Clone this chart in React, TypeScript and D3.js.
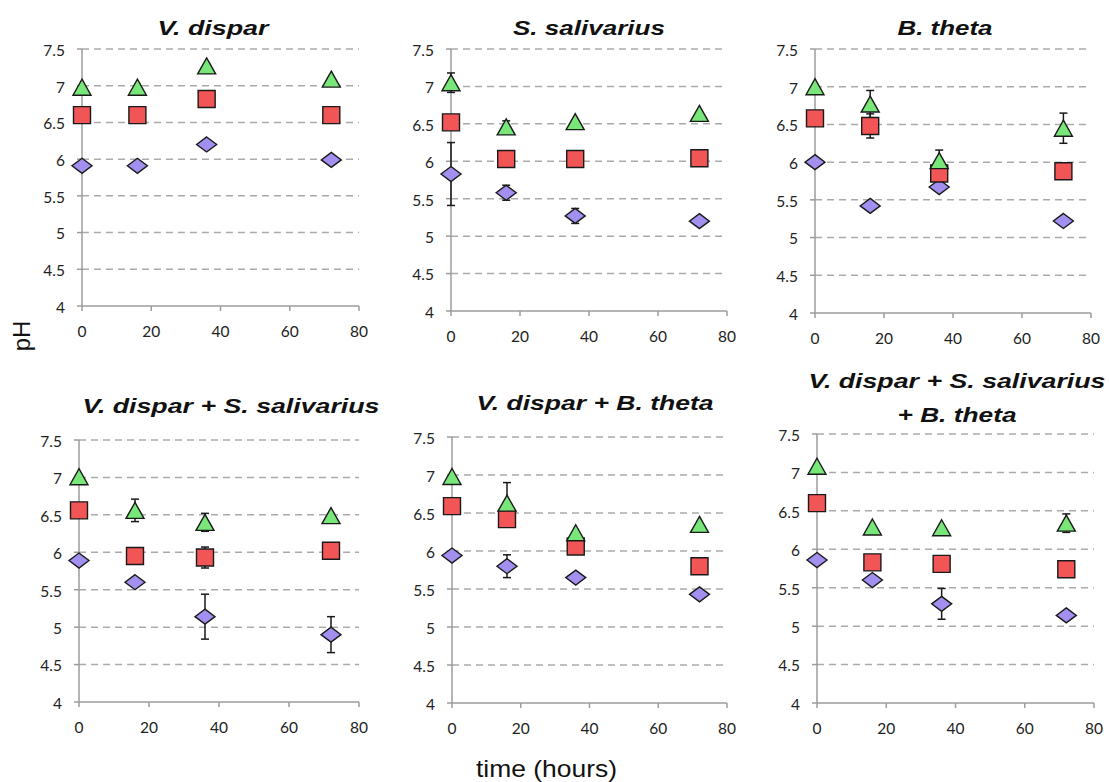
import React from "react";
import * as d3 from "d3";

// sampling times (hours)
const hours = [0, 16, 36, 72];

const panelTitles = [
  ["V. dispar"],
  ["S. salivarius"],
  ["B. theta"],
  ["V. dispar +  S. salivarius"],
  ["V. dispar +  B. theta"],
  ["V. dispar +  S. salivarius", "+ B. theta"],
];

// pH per panel, one row per panel, one value per time point
const trianglePH = [
  [6.98, 6.98, 7.27, 7.09],
  [7.05, 6.46, 6.53, 6.64],
  [7.0, 6.77, 6.02, 6.45],
  [7.01, 6.56, 6.4, 6.49],
  [6.98, 6.63, 6.24, 6.35],
  [7.08, 6.29, 6.28, 6.34],
];
const triangleErr = [
  [0, 0, 0, 0],
  [0.13, 0.08, 0, 0],
  [0, 0.18, 0.14, 0.2],
  [0, 0.15, 0.12, 0],
  [0, 0.27, 0, 0],
  [0, 0, 0, 0.12],
];

const squarePH = [
  [6.6, 6.6, 6.82, 6.6],
  [6.52, 6.03, 6.03, 6.04],
  [6.58, 6.48, 5.85, 5.88],
  [6.56, 5.95, 5.93, 6.02],
  [6.59, 6.42, 6.06, 5.8],
  [6.6, 5.83, 5.81, 5.74],
];
const squareErr = [
  [0, 0, 0, 0],
  [0, 0, 0, 0],
  [0, 0.16, 0, 0],
  [0, 0, 0.14, 0],
  [0, 0, 0, 0],
  [0, 0, 0, 0],
];

const diamondPH = [
  [5.91, 5.91, 6.2, 5.99],
  [5.83, 5.58, 5.27, 5.2],
  [6.0, 5.42, 5.67, 5.22],
  [5.89, 5.6, 5.14, 4.9],
  [5.94, 5.8, 5.65, 5.43],
  [5.86, 5.6, 5.29, 5.14],
];
const diamondErr = [
  [0, 0, 0, 0],
  [0.42, 0.1, 0.1, 0],
  [0, 0, 0, 0],
  [0, 0, 0.3, 0.24],
  [0, 0.15, 0, 0],
  [0, 0, 0.2, 0],
];

const yTicks = [4, 4.5, 5, 5.5, 6, 6.5, 7, 7.5];
const xTicks = [0, 20, 40, 60, 80];

// plot frames: [left, right, bottom, top], title centre/baseline and title widths
const frames = [
  { l: 82, r: 359, b: 306, t: 49, tx: 213, ty: 35, tw: [111] },
  { l: 451, r: 727, b: 311, t: 49, tx: 589, ty: 35, tw: [152] },
  { l: 815, r: 1091, b: 313, t: 49, tx: 945, ty: 35, tw: [95] },
  { l: 79, r: 359, b: 702, t: 440, tx: 231, ty: 413, tw: [297] },
  { l: 452, r: 727, b: 703, t: 437, tx: 595, ty: 410, tw: [237] },
  { l: 817, r: 1094, b: 703, t: 434, tx: 957, ty: 388, tw: [297, 119] },
];

const GREEN = "#78e678";
const RED = "#f25555";
const PURPLE = "#a38ff0";
const EDGE = "#1a1a1a";
const TICKFONT = "Lato, 'Open Sans', sans-serif";
const SANS = "'Liberation Sans', Arial, sans-serif";

const tri = (x: number, y: number) => `M${x},${y - 8}L${x + 9},${y + 8}L${x - 9},${y + 8}Z`;
const sq = (x: number, y: number) => `M${x - 8.5},${y - 8.5}h17v17h-17Z`;
const dia = (x: number, y: number) => `M${x},${y - 7.5}L${x + 10},${y}L${x},${y + 7.5}L${x - 10},${y}Z`;

function Panel({ i }: { i: number }) {
  const f = frames[i];
  const x = d3.scaleLinear().domain([0, 80]).range([f.l, f.r]);
  const y = d3.scaleLinear().domain([4, 7.5]).range([f.b, f.t]);

  const series = [
    { vals: diamondPH[i], err: diamondErr[i], fill: PURPLE, shape: dia },
    { vals: squarePH[i], err: squareErr[i], fill: RED, shape: sq },
    { vals: trianglePH[i], err: triangleErr[i], fill: GREEN, shape: tri },
  ];

  return (
    <g>
      {yTicks.slice(1).map((t) => (
        <line key={"g" + t} x1={x(0)} x2={f.r} y1={y(t)} y2={y(t)}
          stroke="#ababab" strokeWidth={1.5} strokeDasharray="7,5" />
      ))}
      <line x1={x(0)} x2={x(0)} y1={y(4)} y2={y(7.5)} stroke="#9c9c9c" strokeWidth={1.5} />
      <line x1={x(0)} x2={x(80)} y1={y(4)} y2={y(4)} stroke="#9c9c9c" strokeWidth={1.5} />
      {yTicks.map((t) => (
        <g key={"y" + t}>
          <line x1={x(0) - 5} x2={x(0)} y1={y(t)} y2={y(t)} stroke="#9c9c9c" strokeWidth={1.5} />
          <text x={x(0) - 17} y={y(t) + 1.5} dy="0.35em" textAnchor="end"
            fontFamily={TICKFONT} fontSize={15.5} fill="#222">{t}</text>
        </g>
      ))}
      {xTicks.map((t) => (
        <g key={"x" + t}>
          <line x1={x(t)} x2={x(t)} y1={y(4)} y2={y(4) + 5} stroke="#9c9c9c" strokeWidth={1.5} />
          <text x={x(t)} y={y(4) + 26} dy="0.35em" textAnchor="middle"
            fontFamily={TICKFONT} fontSize={15.5} fill="#222">{t}</text>
        </g>
      ))}
      {series.map((s, si) =>
        s.vals.map((v, k) =>
          s.err[k] > 0 ? (
            <g key={"e" + si + k} stroke={EDGE} strokeWidth={1.5}>
              <line x1={x(hours[k])} x2={x(hours[k])} y1={y(v - s.err[k])} y2={y(v + s.err[k])} />
              <line x1={x(hours[k]) - 4} x2={x(hours[k]) + 4} y1={y(v - s.err[k])} y2={y(v - s.err[k])} />
              <line x1={x(hours[k]) - 4} x2={x(hours[k]) + 4} y1={y(v + s.err[k])} y2={y(v + s.err[k])} />
            </g>
          ) : null
        )
      )}
      {series.map((s, si) =>
        s.vals.map((v, k) => (
          <path key={"m" + si + k} d={s.shape(x(hours[k]), y(v))} fill={s.fill}
            stroke={EDGE} strokeWidth={1.4} strokeLinejoin="miter" />
        ))
      )}
      {panelTitles[i].map((line, li) => (
        <text key={"t" + li} x={f.tx - f.tw[li] / 2} y={f.ty + li * 34}
          textLength={f.tw[li]} lengthAdjust="spacingAndGlyphs"
          fontFamily={SANS} fontWeight="bold"
          fontStyle="italic" fontSize={21} fill="#111">{line}</text>
      ))}
    </g>
  );
}

export default function App() {
  return (
    <svg width={1109} height={782} style={{ position: "absolute", left: 0, top: 0, background: "#fff" }}>
      {frames.map((_, i) => (
        <Panel key={i} i={i} />
      ))}
      <text transform="translate(30,336) rotate(-90)" textAnchor="middle"
        fontFamily={SANS} fontSize={24} fill="#111">pH</text>
      <text x={476} y={777} textLength={141} lengthAdjust="spacingAndGlyphs"
        fontFamily={SANS} fontSize={24} fill="#111">time (hours)</text>
    </svg>
  );
}
